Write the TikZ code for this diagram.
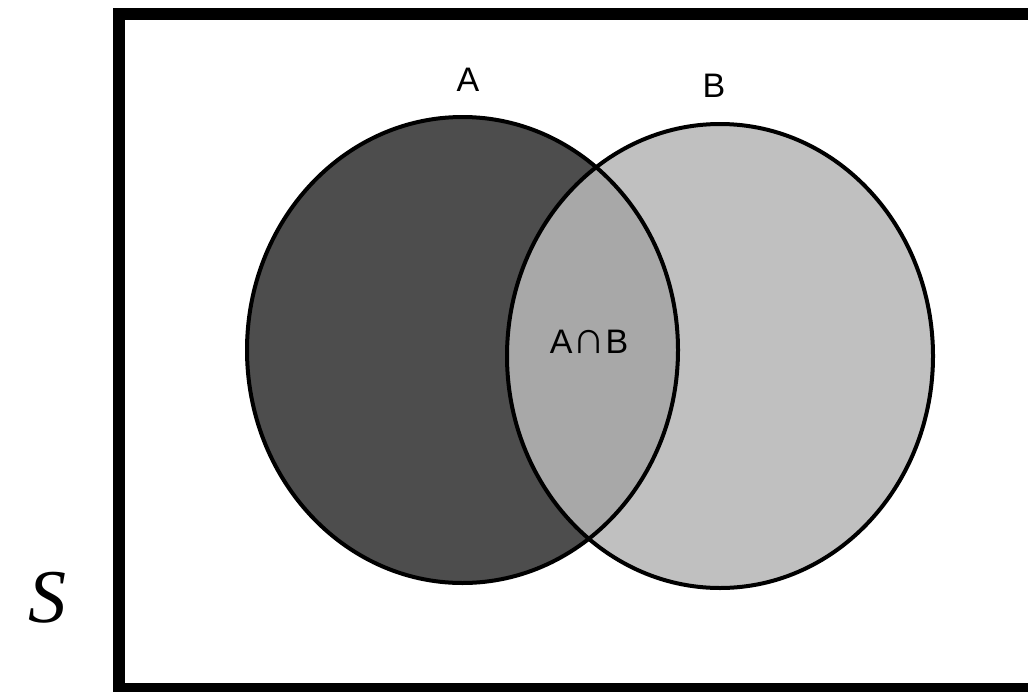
\documentclass[tikz,border=0pt]{standalone}
\usepackage{fontspec}
\setmainfont{Liberation Sans}
\newfontfamily\serifit{Liberation Serif Italic}
\definecolor{darkA}{HTML}{4D4D4D}
\definecolor{lightB}{HTML}{C0C0C0}
\definecolor{midAB}{HTML}{A8A8A8}
\tikzset{
  setline/.style={draw=black, line width=4pt},
  frameline/.style={draw=black, line width=12pt},
  setlabel/.style={font=\fontsize{34}{36}\selectfont, inner sep=0pt, anchor=center},
}
\begin{document}
\begin{tikzpicture}[x=1pt,y=-1pt]
\useasboundingbox (0,0) rectangle (1028,691);
\clip (0,0) rectangle (1028,691);
\fill[white] (0,0) rectangle (1028,691);
% universe frame
\draw[frameline] (119,14) rectangle (1060,689);
% fills
\fill[darkA] (462.5,350) ellipse [x radius=215.5, y radius=233];
\fill[lightB] (720,356) ellipse [x radius=213, y radius=232];
\begin{scope}
  \clip (462.5,350) ellipse [x radius=215.5, y radius=233];
  \fill[midAB] (720,356) ellipse [x radius=213, y radius=232];
\end{scope}
% outlines
\draw[setline] (462.5,350) ellipse [x radius=215.5, y radius=233];
\draw[setline] (720,356) ellipse [x radius=213, y radius=232];
% labels
\node[setlabel] (labA) at (468,80) {A};
\node[setlabel] (labB) at (714,86) {B};
\node[setlabel] (labAB) at (589,342) {A{\fontsize{46}{48}\selectfont ∩}B};
\node[font=\serifit\fontsize{76}{80}\selectfont, inner sep=0pt] (labS) at (47,598) {S};
\end{tikzpicture}
\end{document}
